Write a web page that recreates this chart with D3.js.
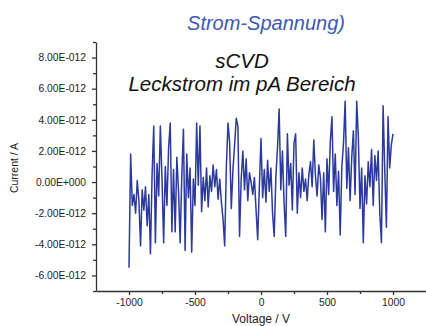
<!DOCTYPE html>
<html>
<head>
    <meta charset="utf-8">
    <title>Strom-Spannung</title>
    <script src="https://cdn.jsdelivr.net/npm/d3@7/dist/d3.min.js"></script>
    <style>
        body { margin: 0; background: #fff; }
        text { font-family: "Liberation Sans", Arial, sans-serif; }
    </style>
</head>
<body>
    <svg width="426" height="326" id="mainsvg"></svg>
    <script>
        // sweep -1000 V .. 1000 V, 12.5 V step
        const voltages = d3.range(-1000, 1000.1, 12.5);
        // leakage current in pA
        const currentPA = [
            -5.5, 1.8, -1.5, -0.8, -2.0, 0.1, -1.2, -4.1, -0.5, -1.8,
            -0.3, -2.8, -0.8, -4.6, 0.5, 3.6, -3.9, 1.2, -0.9, 3.6,
            0.2, -3.9, 1.0, -1.5, 2.2, 3.8, -3.2, 0.8, -3.2, 1.6,
            -0.5, -3.9, 0.4, 3.4, -4.4, 1.8, -1.0, 0.9, -4.5, 0.2,
            -1.5, 3.8, -0.2, 3.6, -1.9, 0.3, -1.2, 0.9, -1.6, 0.4,
            -0.6, 1.1, -0.3, 0.8, -1.1, 0.2, -1.3, -2.4, -4.1, 1.0,
            3.8, 2.5, -1.7, 0.8, 2.4, 4.1, 3.6, -3.5, 0.2, 2.0,
            -0.5, 1.5, -1.2, 0.6, 0.0, -0.8, 0.3, -1.8, -3.7, -0.3,
            2.8, -1.0, 0.8, -1.3, 1.4, -0.6, 0.9, -2.0, -3.5, 0.3,
            2.2, 4.7, -0.5, 2.0, -1.4, -3.5, 3.1, -0.2, 1.2, -1.8,
            2.5, 3.1, -2.0, 0.6, -1.0, 0.9, -0.6, 0.2, -1.2, 0.5,
            1.3, -0.3, 2.7, 0.4, -0.9, 1.1, 0.3, -2.4, 0.6, -3.2,
            1.5, -0.8, 2.6, 4.2, -0.6, 1.8, -1.5, 0.7, -3.4, 1.0,
            2.5, 5.2, -0.4, 2.2, -1.2, 1.6, 3.3, -0.8, 5.2, 2.9,
            -1.7, 0.9, -3.9, 0.4, -1.4, 1.3, -0.3, 2.1, -1.5, 1.7,
            0.1, 2.0, -2.0, -3.9, 4.9, 0.8, -2.9, 4.2, 0.9, 2.4,
            3.1
        ];
        const yTickValues = [-6e-12, -4e-12, -2e-12, 0, 2e-12, 4e-12, 6e-12, 8e-12];
        const yTickLabels = ['-6.00E-012', '-4.00E-012', '-2.00E-012', '0.00E+000',
            '2.00E-012', '4.00E-012', '6.00E-012', '8.00E-012'];
        const yMinorTicks = [-7e-12, -5e-12, -3e-12, -1e-12, 1e-12, 3e-12, 5e-12, 7e-12, 9e-12];
        const xTickValues = [-1000, -500, 0, 500, 1000];
        const xMinorTicks = [-750, -250, 250, 750];

        const svg = d3.select('#mainsvg');
        svg.append('rect').attr('width', 426).attr('height', 326).attr('fill', '#fff');

        const x = d3.scaleLinear().domain([-1250, 1250]).range([96, 426]);
        const y = d3.scaleLinear().domain([-7e-12, 9e-12]).range([291, 42]);

        const data = voltages.map((v, i) => ({ v: v, c: currentPA[i] * 1e-12 }));

        // minor ticks first
        svg.append('g').attr('transform', 'translate(96,0)')
            .call(d3.axisLeft(y).tickValues(yMinorTicks).tickSize(3).tickFormat(''))
            .call(g => g.select('.domain').remove());
        svg.append('g').attr('transform', 'translate(0,291)')
            .call(d3.axisBottom(x).tickValues(xMinorTicks).tickSize(3).tickFormat(''))
            .call(g => g.select('.domain').remove());

        svg.append('g').attr('transform', 'translate(96,0)')
            .call(d3.axisLeft(y).tickValues(yTickValues).tickSize(4).tickSizeOuter(0).tickPadding(6)
                .tickFormat((d, i) => yTickLabels[i]));
        svg.append('g').attr('transform', 'translate(0,291)')
            .call(d3.axisBottom(x).tickValues(xTickValues).tickSize(4).tickSizeOuter(0).tickPadding(4)
                .tickFormat(d => String(d)));

        svg.selectAll('.tick line, .domain').attr('stroke', '#333').attr('stroke-width', 1.3);
        svg.selectAll('.tick text').attr('font-size', 10.3).attr('fill', '#222')
            .attr('font-family', '"Liberation Sans", Arial, sans-serif');

        const line = d3.line().x(d => x(d.v)).y(d => y(d.c));
        svg.append('path').datum(data)
            .attr('d', line)
            .attr('fill', 'none')
            .attr('stroke', '#2b3a9c')
            .attr('stroke-width', 1.5)
            .attr('stroke-linejoin', 'round');

        // labels
        svg.append('text').attr('transform', 'translate(18,168) rotate(-90)')
            .attr('text-anchor', 'middle').attr('font-size', 10.5).attr('fill', '#222')
            .text('Current / A');
        svg.append('text').attr('x', 261).attr('y', 323)
            .attr('text-anchor', 'middle').attr('font-size', 12).attr('fill', '#222')
            .text('Voltage / V');

        svg.append('text').attr('x', 266).attr('y', 30)
            .attr('text-anchor', 'middle').attr('font-size', 20).attr('font-style', 'italic')
            .attr('fill', '#3a5ab4').text('Strom-Spannung)');
        svg.append('text').attr('x', 242).attr('y', 68)
            .attr('text-anchor', 'middle').attr('font-size', 20.5).attr('font-style', 'italic')
            .attr('fill', '#111').text('sCVD');
        svg.append('text').attr('x', 242).attr('y', 91)
            .attr('text-anchor', 'middle').attr('font-size', 20.5).attr('font-style', 'italic')
            .attr('fill', '#111').text('Leckstrom im pA Bereich');
    </script>
</body>
</html>
